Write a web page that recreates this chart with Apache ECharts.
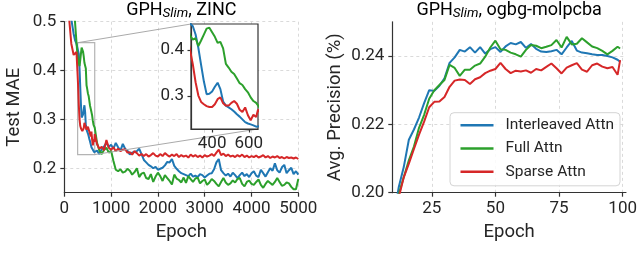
<!DOCTYPE html>
<html><head><meta charset="utf-8">
<script src="https://cdn.jsdelivr.net/npm/echarts@6/dist/echarts.min.js"></script>
<style>html,body{margin:0;padding:0;background:#fff}#c{width:640px;height:264px}</style>
</head><body><div id="c"></div>
<script>
// ---------- data: ZINC (Test MAE vs epoch) ----------
const zincEpochs = [0,50,100,150,200,230,260,280,295,310,325,340,355,370,385,400,415,430,445,460,475,490,505,520,535,550,565,580,595,610,625,640,650,
 700,750,800,850,900,950,1000,1050,1100,1150,1200,1250,1300,1350,1400,1450,1500,1550,1600,1650,1700,1750,1800,1850,1900,1950,2000,2050,2100,2150,
 2200,2250,2300,2350,2400,2450,2500,2550,2600,2650,2700,2750,2800,2850,2900,2950,3000,3050,3100,3150,3200,3250,3300,3350,3400,3450,3500,3550,3600,3650,
 3700,3750,3800,3850,3900,3950,4000,4050,4100,4150,4200,4250,4300,4350,4400,4450,4500,4550,4600,4650,4700,4750,4800,4850,4900,4950,5000];
const zincInterleaved = [0.80,0.66,0.56,0.505,0.475,0.462,0.455,0.458,0.452,0.434,0.405,0.368,0.332,0.304,0.305,0.310,0.320,0.329,0.315,0.288,0.279,0.275,0.271,0.266,0.260,0.255,0.249,0.243,0.240,0.238,0.236,0.233,0.230,
 0.236,0.229,0.239,0.245,0.252,0.244,0.248,0.240,0.252,0.243,
 0.236,0.250,0.240,0.236,0.228,0.232,0.234,0.235,0.240,0.229,
 0.217,0.212,0.207,0.204,0.200,0.203,0.197,0.199,0.201,0.206,
 0.213,0.212,0.219,0.205,0.199,0.194,0.190,0.188,0.186,0.184,
 0.189,0.183,0.185,0.182,0.188,0.186,0.181,0.185,0.189,0.190,
 0.198,0.212,0.219,0.196,0.190,0.185,0.189,0.183,0.191,0.186,
 0.180,0.186,0.191,0.184,0.188,0.182,0.190,0.194,0.185,0.182,
 0.197,0.190,0.183,0.192,0.200,0.195,0.210,0.196,0.191,0.202,
 0.207,0.190,0.196,0.201,0.188,0.194,0.187];
const zincFull = [0.90,0.78,0.68,0.60,0.535,0.498,0.458,0.432,0.423,0.426,0.409,0.421,0.434,0.447,0.449,0.439,0.429,0.416,0.418,0.404,0.370,0.362,0.353,0.348,0.338,0.328,0.324,0.315,0.308,0.297,0.289,0.285,0.283,
 0.252,0.236,0.229,0.238,0.242,0.232,0.236,0.215,0.197,0.194,
 0.198,0.191,0.193,0.199,0.195,0.187,0.192,0.200,0.182,0.189,
 0.191,0.180,0.178,0.188,0.172,0.183,0.191,0.184,0.174,0.186,
 0.180,0.174,0.167,0.187,0.179,0.176,0.171,0.181,0.170,0.184,
 0.178,0.172,0.179,0.181,0.169,0.174,0.177,0.166,0.171,0.178,
 0.174,0.168,0.163,0.172,0.180,0.171,0.166,0.169,0.175,0.171,
 0.178,0.180,0.168,0.163,0.172,0.175,0.168,0.166,0.172,0.177,
 0.166,0.160,0.168,0.174,0.170,0.166,0.172,0.180,0.172,0.164,
 0.166,0.171,0.169,0.162,0.157,0.157,0.178];
const zincSparse = [0.70,0.60,0.51,0.455,0.432,0.428,0.438,0.400,0.369,0.330,0.301,0.287,0.282,0.278,0.276,0.276,0.282,0.293,0.297,0.284,0.279,0.279,0.285,0.289,0.283,0.270,0.265,0.275,0.258,0.247,0.259,0.254,0.270,
 0.249,0.240,0.244,0.237,0.258,0.242,0.238,0.243,0.235,0.240,
 0.235,0.238,0.239,0.232,0.233,0.228,0.235,0.231,0.226,0.229,
 0.225,0.229,0.224,0.227,0.231,0.226,0.224,0.229,0.225,0.231,
 0.227,0.224,0.228,0.225,0.229,0.223,0.227,0.224,0.226,0.222,
 0.228,0.224,0.227,0.223,0.226,0.222,0.227,0.224,0.226,0.229,
 0.225,0.232,0.238,0.227,0.230,0.225,0.228,0.224,0.226,0.223,
 0.227,0.224,0.228,0.223,0.226,0.222,0.225,0.223,0.226,0.222,
 0.224,0.227,0.222,0.225,0.221,0.224,0.222,0.225,0.221,0.223,
 0.220,0.223,0.221,0.222,0.220,0.222,0.219];

// ---------- data: ogbg-molpcba (Avg. Precision vs epoch) ----------
const molEpochs = [11,12,14,16,18,20,22,24,26,28,30,32,34,36,38,40,42,44,46,48,50,52,54,56,58,60,62,64,66,68,70,72,74,76,78,80,82,84,86,88,90,92,94,96,98,99];
const molInterleaved = [0.1970,0.2015,0.2075,0.2155,0.2185,0.2220,0.2262,0.2300,0.2298,0.2313,0.2335,0.2380,0.2396,0.2418,0.2413,0.2426,0.2410,0.2426,0.2407,0.2420,
 0.2426,0.2412,0.2428,0.2438,0.2434,0.2441,0.2424,0.2435,0.2421,0.2413,0.2412,0.2414,0.2418,0.2405,0.2425,0.2444,0.2416,0.2410,0.2408,0.2405,0.2403,0.2403,0.2400,0.2396,0.2389,0.2383];
const molFull = [0.1965,0.1995,0.2045,0.2095,0.2135,0.2190,0.2228,0.2275,0.2300,0.2315,0.2330,0.2374,0.2365,0.2342,0.2360,0.2360,0.2372,0.2378,0.2398,0.2425,
 0.2445,0.2420,0.2418,0.2410,0.2405,0.2398,0.2418,0.2432,0.2430,0.2423,0.2427,0.2432,0.2447,0.2425,0.2456,0.2434,0.2436,0.2452,0.2440,0.2428,0.2423,0.2415,0.2405,0.2415,0.2427,0.2422];
const molSparse = [0.1950,0.1985,0.2045,0.2085,0.2128,0.2170,0.2208,0.2250,0.2266,0.2267,0.2280,0.2310,0.2328,0.2331,0.2330,0.2318,0.2332,0.2338,0.2350,0.2357,
 0.2362,0.2380,0.2362,0.2350,0.2357,0.2355,0.2358,0.2351,0.2362,0.2358,0.2368,0.2378,0.2364,0.2349,0.2366,0.2373,0.2379,0.2360,0.2354,0.2373,0.2378,0.2369,0.2364,0.2368,0.2345,0.2388];

// ---------- names, ticks, ranges ----------
const seriesNames = ['Interleaved Attn', 'Full Attn', 'Sparse Attn'];
const zincXTicks = [0, 1000, 2000, 3000, 4000, 5000];
const zincYTicks = [0.2, 0.3, 0.4, 0.5];
const zincXRange = [0, 5000];
const zincYRange = [0.15, 0.5];
const insetXTicks = [400, 600];
const insetYTicks = [0.3, 0.4];
const insetXRange = [285, 650];
const insetYRange = [0.228, 0.457];
const molXTicks = [25, 50, 75, 100];
const molYTicks = [0.20, 0.22, 0.24];
const molXRange = [9.5, 101.3];
const molYRange = [0.20, 0.25];

const colors = ['#1f77b4', '#2ca02c', '#d62728'];
const FONT = 'Roboto';
const TXT = '#262626';
const AX = '#333333';

function pairs(xs, ys) { return xs.map((x, i) => [x, ys[i]]); }

function valAxis(o) {
  const base = {
    type: 'value',
    axisLine: { show: true, onZero: false, lineStyle: { color: AX, width: 1.2 } },
    axisTick: { show: true, length: 4, lineStyle: { color: AX, width: 1.2 } },
    axisLabel: { color: TXT, fontSize: 17, fontFamily: FONT, margin: 8, formatter: v => String(v) },
    splitLine: { show: true, lineStyle: { color: '#d6d6d6', width: 0.9, type: [3, 3] } },
    nameTextStyle: { color: TXT, fontSize: 18.5, fontFamily: FONT },
    nameLocation: 'middle'
  };
  for (const k in o) {
    if (base[k] && typeof base[k] === 'object' && !Array.isArray(base[k]) && typeof o[k] === 'object' && !Array.isArray(o[k])) {
      base[k] = Object.assign({}, base[k], o[k]);
    } else base[k] = o[k];
  }
  return base;
}

const zincData = [zincInterleaved, zincFull, zincSparse];
const molData = [molInterleaved, molFull, molSparse];

const series = [];
zincData.forEach((d, i) => series.push({
  type: 'line', name: seriesNames[i], xAxisIndex: 0, yAxisIndex: 0, data: pairs(zincEpochs, d),
  showSymbol: false, symbol: 'none', lineStyle: { width: 2, color: colors[i] }, itemStyle: { color: colors[i] },
  z: 2, animation: false, clip: true
}));
molData.forEach((d, i) => series.push({
  type: 'line', name: seriesNames[i], xAxisIndex: 1, yAxisIndex: 1, data: pairs(molEpochs, d),
  showSymbol: false, symbol: 'none', lineStyle: { width: 2, color: colors[i] }, itemStyle: { color: colors[i] },
  z: 2, animation: false, clip: true
}));
zincData.forEach((d, i) => series.push({
  type: 'line', name: seriesNames[i], xAxisIndex: 2, yAxisIndex: 2, data: pairs(zincEpochs, d),
  showSymbol: false, symbol: 'none', lineStyle: { width: 2, color: colors[i] }, itemStyle: { color: colors[i] },
  z: 6, animation: false, clip: true
}));

const titleRich = {
  a: { fontSize: 18, fontFamily: FONT, color: TXT, lineHeight: 22 },
  s: { fontSize: 13.5, fontFamily: FONT, fontStyle: 'italic', color: TXT, lineHeight: 10, verticalAlign: 'bottom' }
};

const option = {
  animation: false,
  backgroundColor: '#ffffff',
  grid: [
    { left: 64.3, top: 21.7, width: 234, height: 171, containLabel: false },
    { left: 392.3, top: 21.85, width: 234.4, height: 170.85, containLabel: false },
    { left: 191, top: 24, width: 67, height: 105, show: true, backgroundColor: '#ffffff', borderColor: AX, borderWidth: 1.2, z: 4 }
  ],
  xAxis: [
    valAxis({ gridIndex: 0, min: zincXRange[0], max: zincXRange[1], interval: 1000, name: 'Epoch', nameGap: 27 }),
    valAxis({ gridIndex: 1, min: molXRange[0], max: molXRange[1], name: 'Epoch', nameGap: 27,
      axisLabel: { customValues: molXTicks, showMinLabel: true, showMaxLabel: true },
      axisTick: { customValues: molXTicks } }),
    valAxis({ gridIndex: 2, min: insetXRange[0], max: insetXRange[1], z: 5,
      axisLabel: { customValues: insetXTicks, margin: 6 }, axisTick: { customValues: insetXTicks, length: 3.5 },
      splitLine: { show: false } })
  ],
  yAxis: [
    valAxis({ gridIndex: 0, min: zincYRange[0], max: zincYRange[1], name: 'Test MAE', nameGap: 40,
      axisLabel: { customValues: zincYTicks, formatter: v => v.toFixed(1) }, axisTick: { customValues: zincYTicks } }),
    valAxis({ gridIndex: 1, min: molYRange[0], max: molYRange[1], name: 'Avg. Precision (%)', nameGap: 47,
      axisLabel: { customValues: molYTicks, formatter: v => v.toFixed(2) }, axisTick: { customValues: molYTicks } }),
    valAxis({ gridIndex: 2, min: insetYRange[0], max: insetYRange[1], z: 5,
      axisLabel: { customValues: insetYTicks, formatter: v => v.toFixed(1), margin: 7 }, axisTick: { customValues: insetYTicks, length: 3.5 },
      splitLine: { show: false } })
  ],
  legend: {
    data: seriesNames,
    orient: 'vertical',
    left: 450, top: 112.7,
    icon: 'rect', itemWidth: 33, itemHeight: 2.6, itemGap: 5.3,
    padding: [3.5, 6, 5, 10.5],
    backgroundColor: 'rgba(255,255,255,0.85)',
    borderColor: '#d4d4d4', borderWidth: 1, borderRadius: 4,
    textStyle: { color: TXT, fontSize: 15.5, fontFamily: FONT, lineHeight: 18, padding: [0, 0, 0, 7] },
    selectedMode: false, z: 10
  },
  series: series
};

const chart = echarts.init(document.getElementById('c'), null, { renderer: 'canvas' });
chart.setOption(option);

// zoom-indicator rectangle, connectors and titles placed through the library's coordinate conversion
const p0 = pt => chart.convertToPixel({ gridIndex: 0 }, pt);
const p2 = pt => chart.convertToPixel({ gridIndex: 2 }, pt);
const rTL = p0([insetXRange[0], insetYRange[1]]);
const rBR = p0([insetXRange[1], insetYRange[0]]);
const iTL = p2([insetXRange[0], insetYRange[1]]);
const iBR = p2([insetXRange[1], insetYRange[0]]);
const g0L = p0([zincXRange[0], zincYRange[1]]), g0R = p0([zincXRange[1], zincYRange[1]]);
const g1L = chart.convertToPixel({ gridIndex: 1 }, [molXRange[0], molYRange[1]]);
const g1R = chart.convertToPixel({ gridIndex: 1 }, [molXRange[1], molYRange[1]]);
chart.setOption({
  graphic: [
    { type: 'rect', shape: { x: rTL[0], y: rTL[1], width: rBR[0] - rTL[0], height: rBR[1] - rTL[1] },
      style: { fill: 'none', stroke: '#b4b4b4', lineWidth: 1.2 }, z: 1, silent: true },
    { type: 'line', shape: { x1: rTL[0], y1: rTL[1], x2: iTL[0], y2: iTL[1] },
      style: { stroke: '#aaaaaa', lineWidth: 1 }, z: 3, silent: true },
    { type: 'line', shape: { x1: rBR[0], y1: rBR[1], x2: iBR[0], y2: iBR[1] },
      style: { stroke: '#aaaaaa', lineWidth: 1 }, z: 3, silent: true },
    { type: 'text', x: (g0L[0] + g0R[0]) / 2, y: -1, silent: true,
      style: { text: '{a|GPH}{s|Slim}{a|, ZINC}', rich: titleRich, align: 'center', verticalAlign: 'top' } },
    { type: 'text', x: (g1L[0] + g1R[0]) / 2, y: -1, silent: true,
      style: { text: '{a|GPH}{s|Slim}{a|, ogbg-molpcba}', rich: titleRich, align: 'center', verticalAlign: 'top' } }
  ]
});
</script>
</body></html>
